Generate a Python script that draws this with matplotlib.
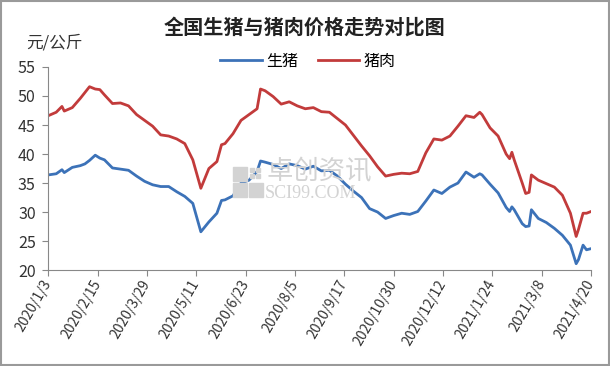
import matplotlib
matplotlib.use("Agg")
import matplotlib.pyplot as plt
from matplotlib.patches import Rectangle
import pandas as pd

plt.rcParams['font.family'] = ['Noto Sans CJK SC', 'DejaVu Sans']

dates = ["2020-01-03", "2020-01-10", "2020-01-15", "2020-01-17", "2020-01-24", "2020-01-31",
         "2020-02-04", "2020-02-08", "2020-02-13", "2020-02-17", "2020-02-21", "2020-02-28",
         "2020-03-06", "2020-03-13", "2020-03-20", "2020-03-27", "2020-04-03", "2020-04-10",
         "2020-04-17", "2020-04-24", "2020-05-01", "2020-05-08", "2020-05-15", "2020-05-22",
         "2020-05-29", "2020-06-02", "2020-06-05", "2020-06-12", "2020-06-19", "2020-06-26",
         "2020-07-03", "2020-07-06", "2020-07-10", "2020-07-17", "2020-07-24", "2020-07-31",
         "2020-08-07", "2020-08-14", "2020-08-21", "2020-08-28", "2020-09-04", "2020-09-11",
         "2020-09-18", "2020-09-25", "2020-10-02", "2020-10-09", "2020-10-16", "2020-10-23",
         "2020-10-30", "2020-11-06", "2020-11-13", "2020-11-20", "2020-11-27", "2020-12-04",
         "2020-12-11", "2020-12-18", "2020-12-25", "2021-01-01", "2021-01-08", "2021-01-13",
         "2021-01-15", "2021-01-22", "2021-01-29", "2021-02-05", "2021-02-08", "2021-02-10",
         "2021-02-12", "2021-02-19", "2021-02-22", "2021-02-25", "2021-02-27", "2021-03-05",
         "2021-03-12", "2021-03-19", "2021-03-26", "2021-04-02", "2021-04-07", "2021-04-09",
         "2021-04-13", "2021-04-16", "2021-04-20"]

pork = [46.6, 47.2, 48.2, 47.4, 48.0, 49.6,
        50.6, 51.6, 51.2, 51.1, 50.2, 48.7,
        48.8, 48.3, 46.8, 45.8, 44.8, 43.3,
        43.1, 42.6, 41.8, 39.0, 34.1, 37.5,
        38.7, 41.6, 41.8, 43.5, 45.8, 46.8,
        47.8, 51.2, 50.9, 49.9, 48.6, 49.0,
        48.3, 47.8, 48.0, 47.3, 47.2, 46.1,
        45.0, 43.2, 41.4, 39.7, 37.8, 36.2,
        36.5, 36.7, 36.6, 37.0, 40.2, 42.6,
        42.4, 43.1, 44.8, 46.6, 46.3, 47.2,
        46.8, 44.5, 43.1, 40.0, 39.2, 40.3,
        39.0, 35.0, 33.2, 33.4, 36.4, 35.5,
        34.9, 34.3, 32.9, 29.8, 25.8, 27.0,
        29.8, 29.8, 30.1]

hog = [36.4, 36.6, 37.3, 36.8, 37.7, 38.0,
       38.3, 38.9, 39.8, 39.3, 39.0, 37.6,
       37.4, 37.2, 36.2, 35.3, 34.7, 34.4,
       34.4, 33.5, 32.7, 31.5, 26.6, 28.3,
       29.8, 32.0, 32.1, 32.8, 35.0, 35.5,
       37.0, 38.8, 38.6, 38.2, 37.5, 38.3,
       38.0, 37.4, 37.9, 37.1, 37.2, 36.2,
       34.8, 33.6, 32.5, 30.6, 30.0, 28.9,
       29.4, 29.8, 29.6, 30.1, 31.9, 33.8,
       33.2, 34.3, 35.0, 36.9, 36.0, 36.6,
       36.4, 34.8, 33.3, 30.8, 30.1, 30.9,
       30.4, 28.0, 27.5, 27.6, 30.4, 28.9,
       28.2, 27.2, 26.0, 24.3, 21.1, 21.8,
       24.3, 23.5, 23.7]

x = pd.to_datetime(dates)
tick_dates = pd.date_range("2020-01-03", periods=12, freq="43D")
tick_labels = [f"{d.year}/{d.month}/{d.day}" for d in tick_dates]

fig = plt.figure(figsize=(6.1, 3.66), dpi=100)
ax = fig.add_axes([0.079, 0.262, 0.890, 0.555])

# watermark (logo + text)
fc = '#d3d3d3'
for (lx, ly) in [(233, 167), (233, 183), (249, 183)]:
    fig.patches.append(Rectangle((lx / 610, 1 - (ly + 14) / 366), 14 / 610, 14 / 366,
                                 transform=fig.transFigure, color=fc, zorder=0))
for (lx, ly) in [(250, 168), (256, 168), (250, 174), (256, 174)]:
    fig.patches.append(Rectangle((lx / 610, 1 - (ly + 4) / 366), 4 / 610, 4 / 366,
                                 transform=fig.transFigure, color=fc, zorder=0))
fig.text(0.437, 0.530, '卓创资讯', ha='left', va='center', fontsize=19, color=fc, zorder=0)
fig.text(0.434, 0.472, 'SCI99.COM', ha='left', va='center', fontsize=13, color=fc,
         family='Liberation Serif', zorder=0)

ax.patch.set_alpha(0)
ax.plot(x, hog, color='#3C72B8', lw=2.0, label='生猪')
ax.plot(x, pork, color='#C23B3B', lw=2.0, label='猪肉')

ax.set_xlim(tick_dates[0], tick_dates[-1])
ax.set_ylim(20, 55)
ax.set_yticks(range(20, 56, 5))
ax.set_xticks(tick_dates)
ax.set_xticklabels(tick_labels, rotation=60, ha='right', va='center',
                   rotation_mode='anchor', fontsize=10, color='#333333')
ax.tick_params(axis='y', labelsize=11.5, colors='#333333', length=4, color='#888888', pad=5)
ax.tick_params(axis='x', length=4, color='#888888', pad=4)
for s in ['top', 'right']:
    ax.spines[s].set_visible(False)
for s in ['left', 'bottom']:
    ax.spines[s].set_color('#888888')

fig.text(0.5, 0.925, '全国生猪与猪肉价格走势对比图', ha='center', va='center',
         fontsize=14.5, fontweight='bold', color='#222222')
fig.text(0.043, 0.883, '元/公斤', ha='left', va='center', fontsize=12, color='#333333')
fig.legend(loc='center', bbox_to_anchor=(0.505, 0.833), ncol=2, frameon=False,
           fontsize=11.5, handlelength=2.6, columnspacing=1.2, handletextpad=0.3)

fig.patches.append(Rectangle((0.002, 0.003), 0.996, 0.994, transform=fig.transFigure,
                             fill=False, edgecolor='#9a9a9a', lw=1.5))

fig.savefig('out.png', dpi=100)
